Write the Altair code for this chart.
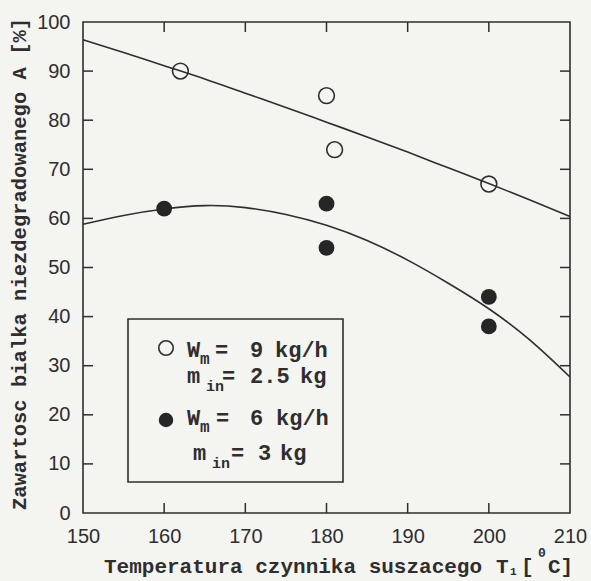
import altair as alt
import pandas as pd

# ---- data ----
T_open = [162, 180, 181, 200]
A_open = [90, 85, 74, 67]

T_filled = [160, 180, 180, 200, 200]
A_filled = [62, 63, 54, 44, 38]

T_curve = [150, 155, 160, 165, 170, 175, 180, 185, 190, 195, 200, 205, 210]
A_upper = [96.4, 93.8, 91.1, 88.4, 85.5, 82.6, 79.6, 76.6, 73.5, 70.3, 67.1, 63.8, 60.4]
A_lower = [58.8, 60.6, 61.9, 62.6, 62.2, 60.8, 58.6, 55.5, 51.5, 46.8, 41.6, 35.3, 27.7]

x_ticks = [150, 160, 170, 180, 190, 200, 210]
y_ticks = [0, 10, 20, 30, 40, 50, 60, 70, 80, 90, 100]
x_inner = [160, 170, 180, 190, 200]
y_inner = [10, 20, 30, 40, 50, 60, 70, 80, 90]

# ---- layout / style ----
W, H = 487, 491
INK = "#2e2e2e"
BG = "#f4f4f1"
MONO = "Liberation Mono"
SANS = "Liberation Sans"
TICK = 10

xs = alt.Scale(domain=[150, 210], nice=False, zero=False)
ys = alt.Scale(domain=[0, 100], nice=False, zero=False)

open_df = pd.DataFrame({"T": T_open, "A": A_open})
filled_df = pd.DataFrame({"T": T_filled, "A": A_filled})
curve_df = pd.DataFrame({"T": T_curve, "upper": A_upper, "lower": A_lower})
xt_df = pd.DataFrame({"T": x_inner})
yt_df = pd.DataFrame({"A": y_inner})
one = pd.DataFrame({"k": [0]})

axis_x = alt.Axis(values=x_ticks, format="d", ticks=False, tickSize=0, domain=False,
                  grid=False, labelFont=SANS, labelFontSize=20, labelColor=INK,
                  labelPadding=13, labelFlush=False, labelOverlap=False, title=None)
axis_y = alt.Axis(values=y_ticks, format="d", ticks=False, tickSize=0, domain=False,
                  grid=False, labelFont=SANS, labelFontSize=20, labelColor=INK,
                  labelPadding=13, labelFlush=False, labelOverlap=False, title=None)

upper_line = alt.Chart(curve_df).mark_line(color=INK, strokeWidth=1.6, interpolate="natural").encode(
    x=alt.X("T:Q", scale=xs, axis=axis_x),
    y=alt.Y("upper:Q", scale=ys, axis=axis_y),
)
lower_line = alt.Chart(curve_df).mark_line(color=INK, strokeWidth=1.6, interpolate="natural").encode(
    x=alt.X("T:Q", scale=xs, axis=axis_x),
    y=alt.Y("lower:Q", scale=ys, axis=axis_y),
)

open_pts = alt.Chart(open_df).mark_point(shape="circle", size=250, filled=False,
                                         color=INK, strokeWidth=1.6, opacity=1).encode(
    x=alt.X("T:Q", scale=xs, axis=axis_x),
    y=alt.Y("A:Q", scale=ys, axis=axis_y),
)
filled_pts = alt.Chart(filled_df).mark_circle(size=250, color="#262626", opacity=1).encode(
    x=alt.X("T:Q", scale=xs, axis=axis_x),
    y=alt.Y("A:Q", scale=ys, axis=axis_y),
)

# inward ticks on all four sides
tick_left = alt.Chart(yt_df).mark_rule(color=INK, strokeWidth=1.5).encode(
    y=alt.Y("A:Q", scale=ys, axis=axis_y), x=alt.value(0), x2=alt.value(TICK))
tick_right = alt.Chart(yt_df).mark_rule(color=INK, strokeWidth=1.5).encode(
    y=alt.Y("A:Q", scale=ys, axis=axis_y), x=alt.value(W - TICK), x2=alt.value(W))
tick_bottom = alt.Chart(xt_df).mark_rule(color=INK, strokeWidth=1.5).encode(
    x=alt.X("T:Q", scale=xs, axis=axis_x), y=alt.value(H - TICK), y2=alt.value(H))
tick_top = alt.Chart(xt_df).mark_rule(color=INK, strokeWidth=1.5).encode(
    x=alt.X("T:Q", scale=xs, axis=axis_x), y=alt.value(0), y2=alt.value(TICK))

# legend box and symbols
legend_box = alt.Chart(one).mark_rect(fillOpacity=0, stroke=INK, strokeWidth=1.6).encode(
    x=alt.value(45), x2=alt.value(260), y=alt.value(297), y2=alt.value(460))
leg_open = alt.Chart(one).mark_point(shape="circle", size=210, filled=False,
                                     color=INK, strokeWidth=1.6, opacity=1).encode(
    x=alt.value(83), y=alt.value(326))
leg_filled = alt.Chart(one).mark_circle(size=210, color="#262626", opacity=1).encode(
    x=alt.value(83), y=alt.value(398))

# text pieces (legend + x title with sub/superscripts), pixel layout
pieces = [
    (104, 335, "W", 22), (117, 342, "m", 16), (132, 335, "=", 22), (167, 335, "9", 22), (192, 335, "kg/h", 22),
    (104, 361, "m", 22), (123, 369, "in", 15), (139, 361, "=", 22), (167, 361, "2.5", 22), (217, 361, "kg", 22),
    (104, 403, "W", 22), (117, 410, "m", 16), (133, 403, "=", 22), (167, 403, "6", 22), (193, 403, "kg/h", 22),
    (110, 438, "m", 22), (129, 446, "in", 15), (148, 438, "=", 22), (175, 438, "3", 22), (197, 438, "kg", 22),
    (21, 551, "Temperatura czynnika suszacego", 21),
    (413, 551, "T", 21), (427, 553, "1", 11), (438, 551, "[", 21), (455, 535, "0", 13), (465, 551, "C]", 21),
]
text_layers = [
    alt.Chart(one).mark_text(text=t, align="left", baseline="alphabetic", font=MONO,
                             fontWeight="bold", fontSize=fs, color=INK).encode(
        x=alt.value(px), y=alt.value(py))
    for (px, py, t, fs) in pieces
]

y_title = alt.Chart(one).mark_text(
    text="Zawartosc bialka niezdegradowanego A [%]", angle=270, align="center",
    baseline="middle", font=MONO, fontWeight="bold", fontSize=20.5, color=INK
).encode(x=alt.value(-63), y=alt.value(242))

chart = alt.layer(
    upper_line, lower_line, open_pts, filled_pts,
    tick_left, tick_right, tick_bottom, tick_top,
    legend_box, leg_open, leg_filled, *text_layers, y_title,
).properties(
    width=W, height=H,
    autosize=alt.AutoSizeParams(type="none"),
    padding={"left": 83, "top": 22, "right": 21, "bottom": 68},
    background=BG,
).configure_view(
    stroke=INK, strokeWidth=1.6, fill=BG
)

chart.save("out.html", embed_options={"renderer": "svg", "actions": False})
